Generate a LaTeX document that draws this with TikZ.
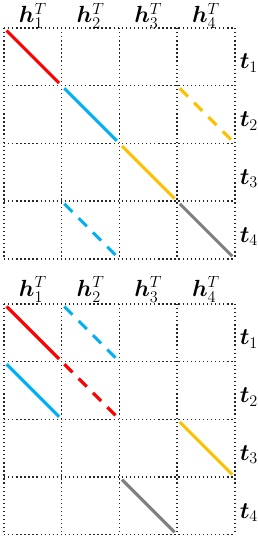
\documentclass[tikz,border=0pt]{standalone}
\usepackage{amsmath, bm}
\definecolor{segred}{RGB}{255, 0, 0}
\definecolor{segblue}{RGB}{0, 176, 240}
\definecolor{segyellow}{RGB}{255, 192, 0}
\definecolor{seggray}{RGB}{128, 128, 128}
\newcommand{\cellseg}[3]{\draw[#1] (#3-0.955, -#2+0.955) -- (#3-0.045, -#2+0.045);}

\begin{document}
\begin{tikzpicture}[
  x=1.5cm, y=1.5cm,
  gridline/.style={dotted, line width=1pt, black!85},
  seg/.style={line width=2.3pt},
  dseg/.style={seg, dash pattern=on 8.5pt off 6.5pt},
  collabel/.style={anchor=base, inner sep=0pt, font=\fontsize{17}{19}\selectfont},
  rowlabel/.style={anchor=base west, inner sep=0pt, font=\fontsize{17}{19}\selectfont}
]
  \useasboundingbox (-0.069, 0.485) rectangle (4.40, -8.87);

  % upper grid
  \foreach \i in {0,...,4} {
    \draw[gridline] (\i, 0) -- (\i, -4);
    \draw[gridline] (0, -\i) -- (4, -\i);
  }
  \node[collabel] (ha1) at (0.5, 0.09) {$\bm{h}_1^{T}$};
  \node[collabel] (ha2) at (1.5, 0.09) {$\bm{h}_2^{T}$};
  \node[collabel] (ha3) at (2.5, 0.09) {$\bm{h}_3^{T}$};
  \node[collabel] (ha4) at (3.5, 0.09) {$\bm{h}_4^{T}$};
  \node[rowlabel] (ta1) at (4.08, -0.71) {$\bm{t}_1$};
  \node[rowlabel] (ta2) at (4.08, -1.71) {$\bm{t}_2$};
  \node[rowlabel] (ta3) at (4.08, -2.71) {$\bm{t}_3$};
  \node[rowlabel] (ta4) at (4.08, -3.71) {$\bm{t}_4$};
  \cellseg{seg, segred}{1}{1}
  \cellseg{seg, segblue}{2}{2}
  \cellseg{seg, segyellow}{3}{3}
  \cellseg{seg, seggray}{4}{4}
  \cellseg{dseg, segyellow}{2}{4}
  \cellseg{dseg, segblue}{4}{2}

  % lower grid
  \begin{scope}[yshift=-7.17cm]
    \foreach \i in {0,...,4} {
      \draw[gridline] (\i, 0) -- (\i, -4);
      \draw[gridline] (0, -\i) -- (4, -\i);
    }
    \node[collabel] (hb1) at (0.5, 0.13) {$\bm{h}_1^{T}$};
    \node[collabel] (hb2) at (1.5, 0.13) {$\bm{h}_2^{T}$};
    \node[collabel] (hb3) at (2.5, 0.13) {$\bm{h}_3^{T}$};
    \node[collabel] (hb4) at (3.5, 0.13) {$\bm{h}_4^{T}$};
    \node[rowlabel] (tb1) at (4.08, -0.71) {$\bm{t}_1$};
    \node[rowlabel] (tb2) at (4.08, -1.71) {$\bm{t}_2$};
    \node[rowlabel] (tb3) at (4.08, -2.71) {$\bm{t}_3$};
    \node[rowlabel] (tb4) at (4.08, -3.71) {$\bm{t}_4$};
    \cellseg{seg, segred}{1}{1}
    \cellseg{dseg, segblue}{1}{2}
    \cellseg{seg, segblue}{2}{1}
    \cellseg{dseg, segred}{2}{2}
    \cellseg{seg, segyellow}{3}{4}
    \cellseg{seg, seggray}{4}{3}
  \end{scope}
\end{tikzpicture}
\end{document}
